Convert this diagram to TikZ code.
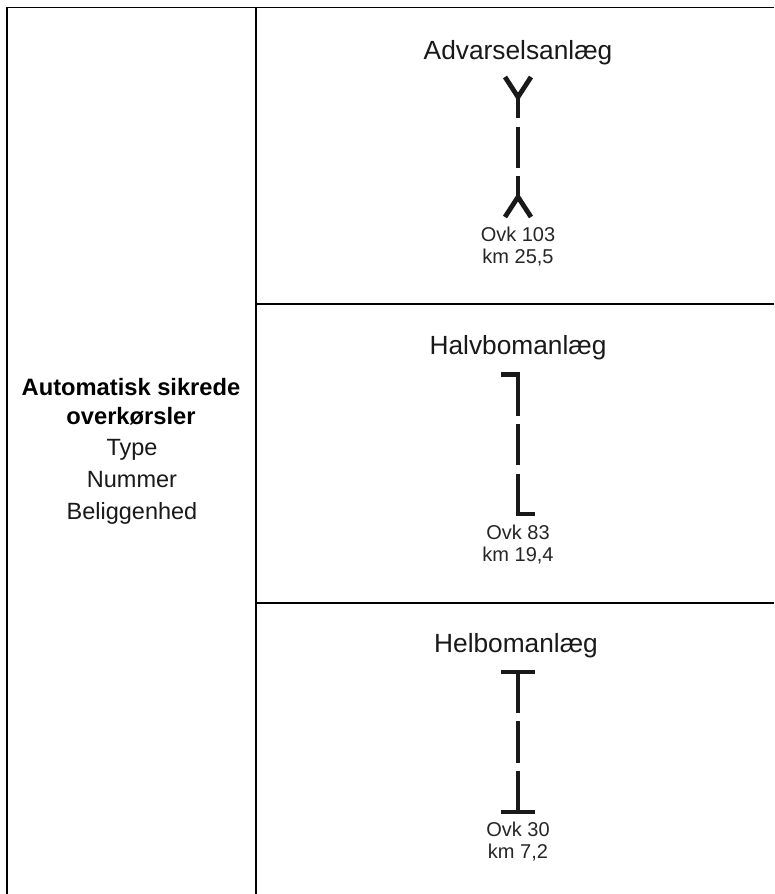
\documentclass[tikz,border=0pt]{standalone}
\usepackage{fontspec}
\setmainfont{Liberation Sans}
\begin{document}
\begin{tikzpicture}[x=1pt,y=-1pt,
  grid/.style={line width=1.3pt,black},
  sym/.style={line width=4.8pt,color=black!90,line cap=butt,line join=miter},
  big/.style={anchor=base,inner sep=0pt,font=\fontsize{26.3}{30}\selectfont,text=black!90},
  mid/.style={anchor=base,inner sep=0pt,font=\fontsize{23.5}{26}\selectfont,text=black!90},
  midb/.style={anchor=base,inner sep=0pt,font=\fontsize{23.7}{26}\selectfont\bfseries,text=black},
  small/.style={anchor=base,inner sep=0pt,font=\fontsize{20}{24}\selectfont,text=black!85}]
\useasboundingbox (0,0) rectangle (774,894);
\fill[white] (0,0) rectangle (774,894);
% table
\draw[grid] (7,894) -- (7,7.5) -- (774,7.5);
\draw[grid] (256,7.5) -- (256,894);
\draw[grid] (256,304) -- (774,304);
\draw[grid] (256,603) -- (774,603);
% left cell
\node[midb] (t1) at (131,395) {Automatisk sikrede};
\node[midb] (t2) at (131,424) {overkørsler};
\node[mid] (t3) at (132,455) {Type};
\node[mid] (t4) at (132,487) {Nummer};
\node[mid] (t5) at (132,519) {Beliggenhed};
% Advarselsanlaeg
\node[big] (a) at (518,59) {Advarselsanlæg};
\draw[sym] (505,77) -- (518,97) -- (531,77);
\draw[sym] (518,97) -- (518,118);
\draw[sym] (518,126.5) -- (518,168);
\draw[sym] (518,176) -- (518,197);
\draw[sym] (505,217) -- (518,197) -- (531,217);
\node[small] (a1) at (518,241) {Ovk 103};
\node[small] (a2) at (518,263) {km 25,5};
% Halvbomanlaeg
\node[big] (b) at (518,354) {Halvbomanlæg};
\draw[sym] (501,374.5) -- (518,374.5) -- (518,416);
\draw[sym] (518,424) -- (518,465);
\draw[sym] (518,473.5) -- (518,514) -- (535,514);
\node[small] (b1) at (518,539) {Ovk 83};
\node[small] (b2) at (518,561) {km 19,4};
% Helbomanlaeg
\node[big] (c) at (516,652) {Helbomanlæg};
\draw[sym] (501,672) -- (535,672);
\draw[sym] (518,672) -- (518,713);
\draw[sym] (518,721) -- (518,763);
\draw[sym] (518,771) -- (518,812);
\draw[sym] (501,812) -- (535,812);
\node[small] (c1) at (518,836) {Ovk 30};
\node[small] (c2) at (518,858) {km 7,2};
\end{tikzpicture}
\end{document}
